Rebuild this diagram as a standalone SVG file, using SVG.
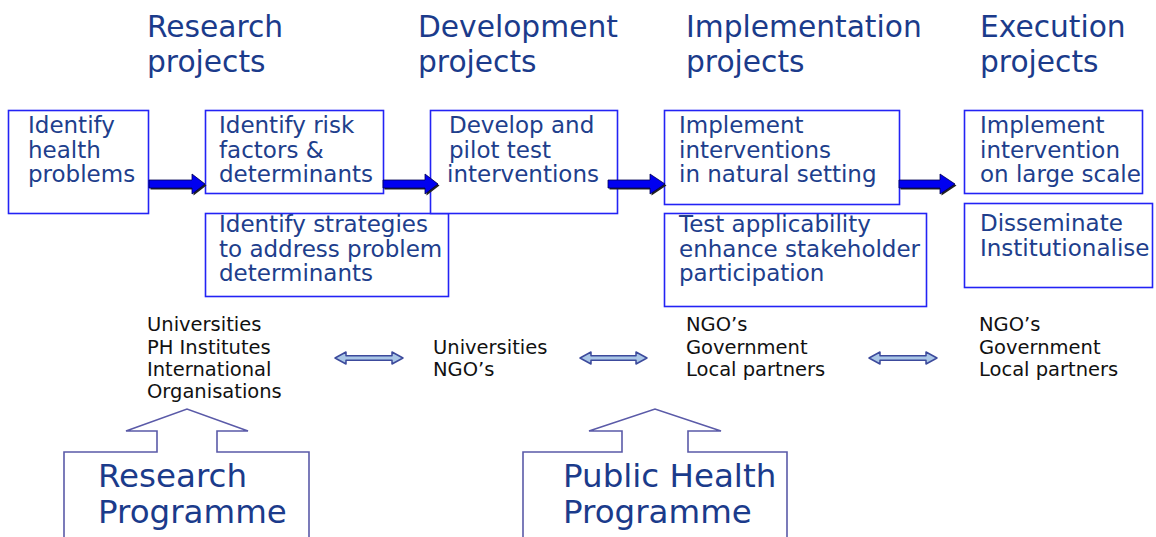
<svg xmlns="http://www.w3.org/2000/svg" width="1156" height="537" viewBox="0 0 1156 537">
<style>
.hdr{font-family:"DejaVu Sans",Verdana,sans-serif;font-size:29.7px;fill:#1b3b8b}
.bx{fill:#fff;stroke:#2323f5;stroke-width:1.6}
.bt{font-family:"DejaVu Sans",Verdana,sans-serif;font-size:23px;fill:#203e8c}
.lt{font-family:"DejaVu Sans",Verdana,sans-serif;font-size:19.5px;fill:#111}
.pg{font-family:"DejaVu Sans",Verdana,sans-serif;font-size:32.5px;fill:#1b3b8b}
.arr{fill:#0000f0;stroke:#000050;stroke-width:0.8}
.sh{fill:#222}
.da{fill:#a9c6e6;stroke:#3c4a9c;stroke-width:1.5;stroke-linejoin:round}
.co{fill:#fff;stroke:#5a5aa8;stroke-width:1.6}
</style>
<rect width="1156" height="537" fill="#fff"/>
<g id="headers">
<text class="hdr" x="147" y="37">Research</text><text class="hdr" x="147" y="72">projects</text>
<text class="hdr" x="418" y="37">Development</text><text class="hdr" x="418" y="72">projects</text>
<text class="hdr" x="686" y="37">Implementation</text><text class="hdr" x="686" y="72">projects</text>
<text class="hdr" x="980" y="37">Execution</text><text class="hdr" x="980" y="72">projects</text>
</g>
<g id="n1"><rect class="bx" x="8.5" y="110.5" width="140" height="103"/>
<text class="bt" x="28" y="133">Identify</text><text class="bt" x="28" y="157.5">health</text><text class="bt" x="28" y="182">problems</text></g>
<g id="n2"><rect class="bx" x="205.5" y="110.5" width="178" height="83"/>
<text class="bt" x="219" y="133">Identify risk</text><text class="bt" x="219" y="157.5">factors &amp;</text><text class="bt" x="219" y="182">determinants</text></g>
<g id="n3"><rect class="bx" x="205.5" y="213.5" width="243" height="83"/>
<text class="bt" x="219" y="232">Identify strategies</text><text class="bt" x="219" y="257">to address problem</text><text class="bt" x="219" y="281">determinants</text></g>
<g id="n4"><rect class="bx" x="430.5" y="110.5" width="187" height="103"/>
<text class="bt" x="449" y="133">Develop and</text><text class="bt" x="449" y="157.5">pilot test</text><text class="bt" x="447" y="182">interventions</text></g>
<g id="n5"><rect class="bx" x="664.5" y="110.5" width="235" height="94"/>
<text class="bt" x="679" y="133">Implement</text><text class="bt" x="679" y="157.5">interventions</text><text class="bt" x="679" y="182">in natural setting</text></g>
<g id="n6"><rect class="bx" x="664.5" y="213.5" width="262" height="93"/>
<text class="bt" x="679" y="232">Test applicability</text><text class="bt" x="679" y="257">enhance stakeholder</text><text class="bt" x="679" y="281">participation</text></g>
<g id="n7"><rect class="bx" x="964.5" y="110.5" width="178" height="83"/>
<text class="bt" x="980" y="133">Implement</text><text class="bt" x="980" y="157.5">intervention</text><text class="bt" x="980" y="182">on large scale</text></g>
<g id="n8"><rect class="bx" x="964.5" y="203.5" width="188" height="84"/>
<text class="bt" x="980" y="231">Disseminate</text><text class="bt" x="980" y="256">Institutionalise</text></g>
<g id="connectors">
<g transform="translate(1.5,1.5)">
<polygon class="sh" points="149,180 192,180 192,174 205,184 192,194 192,188 149,188"/>
<polygon class="sh" points="383,180 425,180 425,174 438,184 425,194 425,188 383,188"/>
<polygon class="sh" points="608,180 650,180 650,174 665,184 650,194 650,188 608,188"/>
<polygon class="sh" points="899,180 940,180 940,174 955,184 940,194 940,188 899,188"/>
</g>
<polygon class="arr" points="149,180 192,180 192,174 205,184 192,194 192,188 149,188"/>
<polygon class="arr" points="383,180 425,180 425,174 438,184 425,194 425,188 383,188"/>
<polygon class="arr" points="608,180 650,180 650,174 665,184 650,194 650,188 608,188"/>
<polygon class="arr" points="899,180 940,180 940,174 955,184 940,194 940,188 899,188"/>
<polygon class="da" points="335,358 346,352 346,355.8 392,355.8 392,352 403,358 392,364 392,360.2 346,360.2 346,364"/>
<polygon class="da" points="580,358 591,352 591,355.8 636,355.8 636,352 647,358 636,364 636,360.2 591,360.2 591,364"/>
<polygon class="da" points="869,358 880,352 880,355.8 926,355.8 926,352 937,358 926,364 926,360.2 880,360.2 880,364"/>
</g>
<g id="l1"><text class="lt" x="147" y="331">Universities</text><text class="lt" x="147" y="353.5">PH Institutes</text><text class="lt" x="147" y="375.5">International</text><text class="lt" x="147" y="397.5">Organisations</text></g>
<g id="l2"><text class="lt" x="433" y="353.5">Universities</text><text class="lt" x="433" y="375.5">NGO’s</text></g>
<g id="l3"><text class="lt" x="686" y="331">NGO’s</text><text class="lt" x="686" y="353.5">Government</text><text class="lt" x="686" y="375.5">Local partners</text></g>
<g id="l4"><text class="lt" x="979" y="331">NGO’s</text><text class="lt" x="979" y="353.5">Government</text><text class="lt" x="979" y="375.5">Local partners</text></g>
<g id="p1"><polygon class="co" points="64,545 64,452 157,452 157,431 126,431 187,409 248,431 217,431 217,452 309,452 309,545"/>
<text class="pg" x="98" y="487">Research</text><text class="pg" x="98" y="523">Programme</text></g>
<g id="p2"><polygon class="co" points="523,545 523,452 622,452 622,431 589,431 655,409 721,431 688,431 688,452 787,452 787,545"/>
<text class="pg" x="563" y="487">Public Health</text><text class="pg" x="563" y="523">Programme</text></g>
</svg>
